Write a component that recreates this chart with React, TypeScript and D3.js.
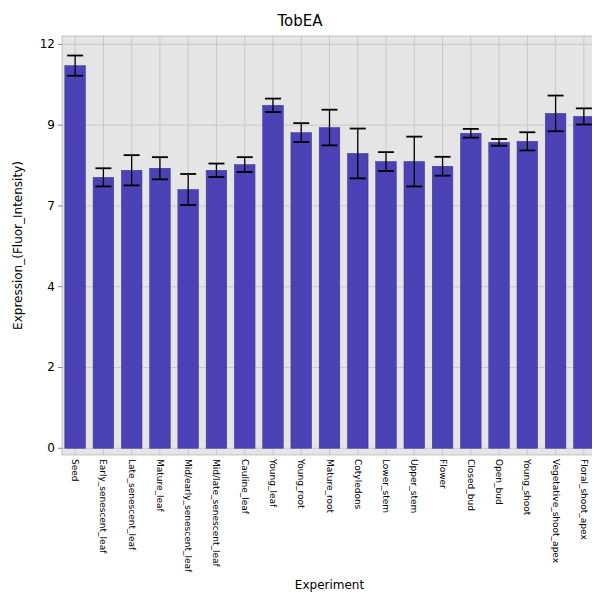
import React from 'react'
import * as d3 from 'd3'

const categories = ['Seed', 'Early_senescent_leaf', 'Late_senescent_leaf', 'Mature_leaf', 'Mid/early_senescent_leaf', 'Mid/late_senescent_leaf', 'Cauline_leaf', 'Young_leaf', 'Young_root', 'Mature_root', 'Cotyledons', 'Lower_stem', 'Upper_stem', 'Flower', 'Closed_bud', 'Open_bud', 'Young_shoot', 'Vegetative_shoot_apex', 'Floral_shoot_apex']
const values = [11.37, 8.05, 8.26, 8.32, 7.69, 8.26, 8.43, 10.19, 9.38, 9.53, 8.76, 8.52, 8.52, 8.38, 9.36, 9.09, 9.12, 9.95, 9.86]
const errors = [0.3, 0.27, 0.45, 0.33, 0.46, 0.2, 0.22, 0.2, 0.28, 0.53, 0.74, 0.28, 0.74, 0.28, 0.13, 0.1, 0.27, 0.53, 0.24]
const yTicks = [0, 2.4, 4.8, 7.2, 9.6, 12]

const App = () => {
    const W = 600, H = 600
    const left = 62, right = 597, top = 36, bottom = 455
    const x = d3.scaleBand<string>().domain(categories).range([left, right]).paddingInner(0.27).paddingOuter(0.1)
    const y = d3.scaleLinear().domain([-0.2, 12.25]).range([bottom, top])
    const cap = 8
    return (
        <svg width={W} height={H} style={{ display: 'block', margin: -8, fontFamily: 'DejaVu Sans, sans-serif' }}>
            <rect x={0.5} y={0.5} width={W - 1} height={H - 1} fill="white" stroke="black" />
            <text x={W / 2} y={26} textAnchor="middle" fontSize={15}>TobEA</text>
            <rect x={left} y={top} width={right - left} height={bottom - top} fill="#e5e5e5" />
            {yTicks.map(t => (
                <g key={t}>
                    <line x1={left} x2={right} y1={y(t)} y2={y(t)} stroke="#c8c8c8" />
                    <line x1={left - 4} x2={left} y1={y(t)} y2={y(t)} stroke="#888" />
                    <text x={left - 7} y={y(t) + 4} textAnchor="end" fontSize={12}>{Math.floor(t)}</text>
                </g>
            ))}
            {categories.map(c => (
                <line key={c} x1={x(c)! + x.bandwidth() / 2} x2={x(c)! + x.bandwidth() / 2} y1={top} y2={bottom} stroke="#c8c8c8" />
            ))}
            {categories.map((c, i) => {
                const cx = x(c)! + x.bandwidth() / 2
                return (
                    <g key={c}>
                        <rect x={x(c)} y={y(values[i])} width={x.bandwidth()} height={y(0) - y(values[i])} fill="#4b43b5" stroke="#3a3390" strokeWidth={0.5} />
                        <line x1={cx} x2={cx} y1={y(values[i] - errors[i])} y2={y(values[i] + errors[i])} stroke="black" strokeWidth={1.3} />
                        <line x1={cx - cap} x2={cx + cap} y1={y(values[i] + errors[i])} y2={y(values[i] + errors[i])} stroke="black" strokeWidth={1.8} />
                        <line x1={cx - cap} x2={cx + cap} y1={y(values[i] - errors[i])} y2={y(values[i] - errors[i])} stroke="black" strokeWidth={1.8} />
                        <text transform={`translate(${cx - 3},${bottom + 4}) rotate(90)`} fontSize={9}>{c}</text>
                    </g>
                )
            })}
            <rect x={left} y={top} width={right - left} height={bottom - top} fill="none" stroke="#999" strokeWidth={0.5} />
            <text x={(left + right) / 2} y={589} textAnchor="middle" fontSize={12}>Experiment</text>
            <text transform={`translate(22,${(top + bottom) / 2}) rotate(-90)`} textAnchor="middle" fontSize={12}>Expression_(Fluor_Intensity)</text>
        </svg>
    )
}

export default App
